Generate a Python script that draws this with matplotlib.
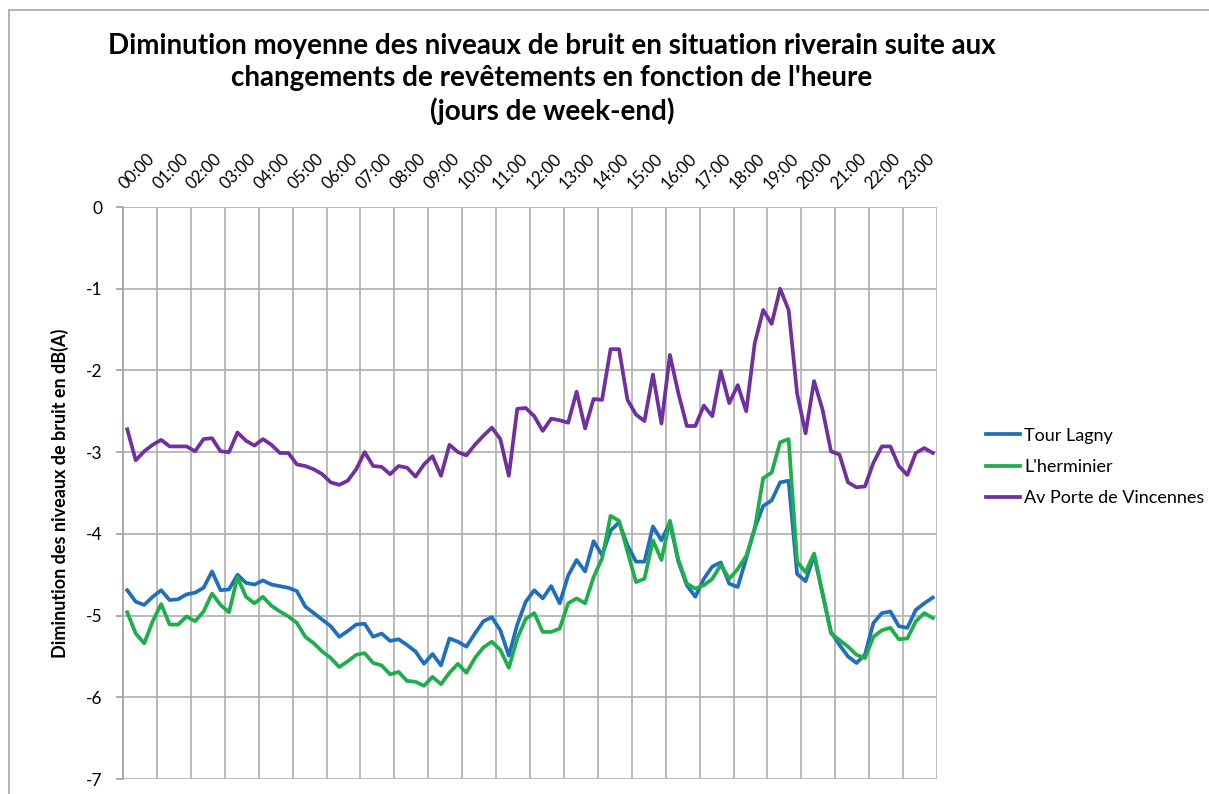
import matplotlib
matplotlib.use("Agg")
import matplotlib.pyplot as plt
from matplotlib.patches import Rectangle

plt.rcParams['font.family'] = ['Lato', 'DejaVu Sans']

# quarter-hour averages, 96 values per series (00:00 -> 23:45)
hours = ["%02d:00" % h for h in range(24)]

tour_lagny = [
    -4.69, -4.83, -4.87, -4.77, -4.69, -4.81, -4.80, -4.74, -4.72, -4.66, -4.46, -4.69,
    -4.68, -4.50, -4.60, -4.62, -4.57, -4.62, -4.64, -4.66, -4.70, -4.89, -4.97, -5.05,
    -5.13, -5.26, -5.19, -5.11, -5.10, -5.26, -5.22, -5.31, -5.29, -5.36, -5.44, -5.59,
    -5.47, -5.61, -5.28, -5.32, -5.38, -5.22, -5.07, -5.02, -5.18, -5.49, -5.11, -4.83,
    -4.69, -4.79, -4.64, -4.85, -4.51, -4.32, -4.46, -4.09, -4.26, -3.96, -3.86, -4.14,
    -4.34, -4.34, -3.91, -4.08, -3.86, -4.34, -4.63, -4.77, -4.55, -4.40, -4.35, -4.61,
    -4.65, -4.30, -3.93, -3.66, -3.59, -3.37, -3.35, -4.49, -4.58, -4.26, -4.73, -5.20,
    -5.36, -5.50, -5.58, -5.48, -5.09, -4.97, -4.95, -5.13, -5.15, -4.93, -4.85, -4.78,
]

lherminier = [
    -4.96, -5.22, -5.34, -5.07, -4.86, -5.11, -5.11, -5.01, -5.07, -4.95, -4.73, -4.87,
    -4.96, -4.53, -4.77, -4.85, -4.77, -4.88, -4.95, -5.01, -5.09, -5.26, -5.34, -5.44,
    -5.52, -5.63, -5.56, -5.48, -5.46, -5.58, -5.61, -5.72, -5.69, -5.80, -5.81, -5.86,
    -5.75, -5.84, -5.70, -5.59, -5.70, -5.52, -5.39, -5.32, -5.42, -5.64, -5.28, -5.04,
    -4.97, -5.20, -5.20, -5.16, -4.85, -4.79, -4.85, -4.53, -4.30, -3.78, -3.84, -4.22,
    -4.59, -4.55, -4.08, -4.32, -3.84, -4.32, -4.61, -4.67, -4.63, -4.55, -4.38, -4.55,
    -4.43, -4.27, -3.94, -3.32, -3.25, -2.88, -2.84, -4.34, -4.47, -4.24, -4.73, -5.22,
    -5.30, -5.38, -5.48, -5.52, -5.26, -5.18, -5.15, -5.29, -5.28, -5.07, -4.97, -5.03,
]

porte_vincennes = [
    -2.72, -3.10, -2.99, -2.91, -2.85, -2.93, -2.93, -2.93, -2.99, -2.84, -2.83, -2.99,
    -3.00, -2.76, -2.86, -2.92, -2.84, -2.91, -3.01, -3.01, -3.15, -3.17, -3.21, -3.27,
    -3.37, -3.40, -3.35, -3.21, -3.00, -3.17, -3.18, -3.27, -3.17, -3.19, -3.30, -3.15,
    -3.05, -3.29, -2.91, -3.00, -3.04, -2.91, -2.80, -2.70, -2.84, -3.29, -2.47, -2.46,
    -2.56, -2.74, -2.59, -2.61, -2.64, -2.26, -2.71, -2.35, -2.36, -1.74, -1.74, -2.36,
    -2.54, -2.62, -2.05, -2.65, -1.81, -2.28, -2.68, -2.68, -2.43, -2.56, -2.01, -2.40,
    -2.18, -2.50, -1.67, -1.26, -1.43, -1.00, -1.26, -2.28, -2.77, -2.13, -2.48, -2.99,
    -3.03, -3.37, -3.43, -3.42, -3.13, -2.93, -2.93, -3.17, -3.28, -3.01, -2.95, -3.01,
]

series = [
    ("Tour Lagny", tour_lagny, "#1f6fbd"),
    ("L'herminier", lherminier, "#1eae4b"),
    ("Av Porte de Vincennes", porte_vincennes, "#7030a0"),
]

fig = plt.figure(figsize=(12.09, 7.94), dpi=100)
fig.patches.append(Rectangle((9 / 1209, -0.1), 1.2, 1 - 10 / 794 + 0.1,
                             transform=fig.transFigure, fill=False,
                             edgecolor="#a6a6a6", linewidth=1.2))

ax = fig.add_axes([123 / 1209, 1 - 779 / 794, 814 / 1209, 572 / 794])

xs = [i + 0.5 for i in range(96)]
for name, vals, col in series:
    ax.plot(xs, vals, color=col, linewidth=2.7, label=name, solid_joinstyle="round")

ax.set_xlim(0, 96)
ax.set_ylim(-7, 0)

# hour labels along the top, gridlines between hours
ax.xaxis.tick_top()
ax.set_xticks([4 * h + 0.5 for h in range(24)])
ax.set_xticklabels(hours, rotation=45, ha="left", va="bottom",
                   rotation_mode="anchor", fontsize=12)
ax.set_xticks(range(0, 97, 4), minor=True)
ax.tick_params(axis="x", which="both", length=0, pad=11)
ax.grid(True, which="minor", axis="x", color="#b4b4b4", linewidth=1.3)

ax.set_yticks(range(-7, 1))
ax.set_yticklabels([str(v) for v in range(-7, 1)], fontsize=12.5)
ax.tick_params(axis="y", length=5, width=1.3, color="#a6a6a6", pad=10)
ax.grid(True, which="major", axis="y", color="#b4b4b4", linewidth=1.3)
ax.set_axisbelow(True)

for side in ("top", "right", "bottom"):
    ax.spines[side].set_visible(False)
ax.spines["left"].set_color("#a6a6a6")
ax.spines["left"].set_linewidth(1.3)

ax.set_ylabel("Diminution des niveaux de bruit en dB(A)", fontsize=13,
              fontweight="bold", labelpad=12)

fig.text(552 / 1209, 1 - 79 / 794,
         "Diminution moyenne des niveaux de bruit en situation riverain suite aux\n"
         "changements de revêtements en fonction de l'heure\n"
         "(jours de week-end)",
         ha="center", va="center", fontsize=20, fontweight="bold",
         linespacing=1.3)

fig.legend(loc="center left", bbox_to_anchor=(986 / 1209, 1 - 467 / 794),
           frameon=False, fontsize=13, handlelength=1.9, handletextpad=0.2,
           labelspacing=0.85, borderpad=0, borderaxespad=0)

fig.savefig("out.png", dpi=100)
